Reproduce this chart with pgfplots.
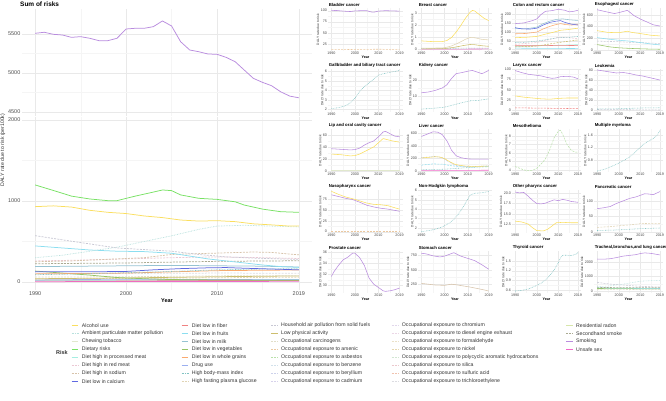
\documentclass[border=0pt]{standalone}
\usepackage{pgfplots}
\pgfplotsset{compat=1.18}
\usepackage{fontspec}
\setmainfont{Liberation Sans}
\definecolor{alcC}{RGB}{250,222,95}
\definecolor{ambC}{RGB}{185,225,222}
\definecolor{chwC}{RGB}{225,232,205}
\definecolor{dieC}{RGB}{120,225,100}
\definecolor{dpmC}{RGB}{165,238,225}
\definecolor{drmC}{RGB}{235,200,212}
\definecolor{dsoC}{RGB}{215,195,170}
\definecolor{dcaC}{RGB}{95,105,225}
\definecolor{dfiC}{RGB}{240,130,130}
\definecolor{dfrC}{RGB}{140,222,240}
\definecolor{dmiC}{RGB}{150,195,210}
\definecolor{dveC}{RGB}{150,195,100}
\definecolor{dwgC}{RGB}{250,170,110}
\definecolor{druC}{RGB}{155,175,240}
\definecolor{bmiC}{RGB}{130,195,195}
\definecolor{fpgC}{RGB}{225,212,180}
\definecolor{hapC}{RGB}{200,200,212}
\definecolor{lpaC}{RGB}{205,190,110}
\definecolor{occC}{RGB}{225,222,200}
\definecolor{oarC}{RGB}{235,200,160}
\definecolor{oasC}{RGB}{185,225,170}
\definecolor{obzC}{RGB}{210,225,235}
\definecolor{obeC}{RGB}{205,210,235}
\definecolor{ocdC}{RGB}{215,210,235}
\definecolor{ochC}{RGB}{225,215,235}
\definecolor{odeC}{RGB}{235,215,230}
\definecolor{ofoC}{RGB}{235,225,200}
\definecolor{oniC}{RGB}{230,215,175}
\definecolor{opaC}{RGB}{210,230,210}
\definecolor{osiC}{RGB}{235,200,205}
\definecolor{osuC}{RGB}{240,195,175}
\definecolor{otrC}{RGB}{220,220,225}
\definecolor{radC}{RGB}{215,230,170}
\definecolor{shsC}{RGB}{170,170,145}
\definecolor{smkC}{RGB}{185,140,222}
\definecolor{unsC}{RGB}{240,105,200}
\tikzset{ds/.style={dash pattern=on 2bp off 1.2bp}, dt/.style={dash pattern=on 0.7bp off 0.9bp}}
\pgfplotsset{
 base/.style={scale only axis, anchor=north west, xmin=1988.55, xmax=2020.45,
   axis line style={draw=none}, major tick length=0pt, minor tick length=0pt,
   grid=both, major grid style={draw=gray!17, line width=0.3bp}, minor grid style={draw=gray!8, line width=0.2bp},
   minor xtick={1995,2005,2015}, minor y tick num=1,
   xtick={1990,2000,2010,2019},
   tick label style={text=black!70},
   /pgf/number format/assume math mode=true, /pgf/number format/1000 sep={}},
 sp/.style={base, height=43bp, tick label style={font=\fontsize{3.7}{4}\selectfont, inner sep=0.8bp},
   every axis title/.style={font=\bfseries\fontsize{4.3}{5}\selectfont, at={(0,1)}, anchor=south west, inner sep=0.6bp, yshift=0.4bp},
   xlabel=Year, xlabel style={font=\bfseries\fontsize{3.7}{4}\selectfont, inner sep=0.6bp},
   ylabel={DALY rate due to risk}, ylabel style={font=\fontsize{3.3}{4}\selectfont, inner sep=0.6bp, text=black!80},
   every axis plot/.append style={line width=0.55bp}},
 mp/.style={base, width=290bp, tick label style={font=\fontsize{5.5}{6}\selectfont, inner sep=1.5bp},
   every axis plot/.append style={line width=0.75bp}},
 fx1/.style={yticklabel style={/pgf/number format/.cd, fixed, fixed zerofill, precision=1}}
}
\newcommand\LE[4]{\draw[color=#3, line width=1.3bp] (#1bp-10bp,-#2bp) -- (#1bp-3.5bp,-#2bp);
  \node[anchor=west, inner sep=0, text=black!80, font=\fontsize{5.2}{6}\selectfont] at (#1bp,-#2bp) {#4};}
\begin{document}
\begin{tikzpicture}
\useasboundingbox (0,0) rectangle (666bp,-401bp);
\node[anchor=west, inner sep=0, font=\bfseries\fontsize{6.5}{7}\selectfont] at (20bp,-4.5bp) {Sum of risks};
\node[rotate=90, inner sep=0, font=\fontsize{5.2}{6}\selectfont, text=black!80] at (2.8bp,-150bp) {DALY rate due to risk (per100k)};
% main top
\begin{axis}[mp, at={(22bp,-9bp)}, height=107bp, ymin=4450, ymax=5820, ytick={4500,5000,5500}, xticklabels={}]
\addplot[smkC] coordinates {(1990,5509)(1991,5522)(1992,5496)(1993,5487)(1994,5457)(1995,5466)(1996,5445)(1997,5415)(1998,5415)(1999,5445)(2000,5564)(2001,5573)(2002,5573)(2003,5594)(2004,5667)(2005,5603)(2006,5401)(2007,5295)(2008,5273)(2009,5244)(2010,5240)(2011,5201)(2012,5145)(2013,5038)(2014,4932)(2015,4881)(2016,4838)(2017,4760)(2018,4705)(2019,4683)};
\end{axis}
% main bottom
\begin{axis}[mp, at={(22bp,-117bp)}, height=173bp, ymin=-99, ymax=2037, ytick={0,1000,2000},
  xlabel=Year, xlabel style={font=\bfseries\fontsize{5.5}{6}\selectfont, inner sep=1bp}]
\addplot[unsC] coordinates {(1990,4)(2005,6)(2019,8)};
\addplot[dfiC] coordinates {(1990,15)(2005,17)(2019,18)};
\addplot[dpmC] coordinates {(1990,20)(2005,25)(2019,30)};
\addplot[druC] coordinates {(1990,25)(2000,35)(2010,30)(2019,28)};
\addplot[fpgC,ds] coordinates {(1990,35)(2005,48)(2019,60)};
\addplot[lpaC] coordinates {(1990,40)(2000,50)(2010,65)(2019,75)};
\addplot[occC,ds] coordinates {(1990,60)(2000,65)(2010,75)(2019,80)};
\addplot[otrC,ds] coordinates {(1990,100)(2000,105)(2010,110)(2019,108)};
\addplot[dveC] coordinates {(1990,135)(1993,110)(1996,85)(1999,55)(2002,40)(2005,30)(2010,25)(2019,20)};
\addplot[dwgC] coordinates {(1990,100)(1995,105)(2000,110)(2005,125)(2010,140)(2015,145)(2019,148)};
\addplot[bmiC,dt] coordinates {(1990,90)(1995,100)(2000,115)(2005,130)(2010,150)(2015,160)(2019,165)};
\addplot[dcaC] coordinates {(1990,125)(1995,125)(2000,130)(2003,150)(2006,165)(2009,175)(2011,178)(2013,170)(2016,160)(2019,150)};
\addplot[dmiC] coordinates {(1990,190)(1995,195)(2000,200)(2005,205)(2010,200)(2015,195)(2019,185)};
\addplot[shsC,ds] coordinates {(1990,225)(2000,235)(2005,245)(2010,255)(2019,262)};
\addplot[drmC,ds] coordinates {(1990,260)(1995,270)(2000,285)(2005,300)(2010,310)(2015,300)(2019,290)};
\addplot[dsoC,ds] coordinates {(1990,250)(1994,260)(1998,280)(2002,300)(2005,340)(2008,350)(2011,360)(2014,370)(2016,365)(2019,335)};
\addplot[dfrC] coordinates {(1990,445)(1993,420)(1996,395)(1999,380)(2002,375)(2005,355)(2007,320)(2009,285)(2011,260)(2013,235)(2015,210)(2017,190)(2019,180)};
\addplot[ambC,dt] coordinates {(1990,300)(1993,330)(1996,380)(1999,430)(2002,500)(2005,570)(2008,650)(2010,690)(2013,700)(2016,690)(2019,680)};
\addplot[hapC,ds] coordinates {(1990,572)(1993,520)(1996,470)(1999,420)(2002,400)(2005,380)(2008,340)(2011,310)(2014,295)(2017,285)(2019,280)};
\addplot[alcC] coordinates {(1990,930)(1992,940)(1994,925)(1996,885)(1998,860)(2000,845)(2002,815)(2004,795)(2006,765)(2008,752)(2010,757)(2012,745)(2014,718)(2016,705)(2018,690)(2019,691)};
\addplot[dieC] coordinates {(1990,1198)(1992,1130)(1994,1060)(1996,1025)(1998,1004)(1999,1004)(2001,1060)(2003,1110)(2004,1136)(2005,1128)(2006,1075)(2008,1033)(2010,1020)(2012,990)(2013,950)(2015,900)(2017,868)(2019,860)};
\end{axis}
% ===== Row 1 =====
\begin{axis}[sp, at={(328bp,-8bp)}, width=75bp, title={Bladder cancer}, ymin=9, ymax=106, ytick={25,50,75,100}]
\addplot[oarC,ds] coordinates {(1990,12)(2000,12.5)(2010,13)(2019,12.5)};
\addplot[smkC] coordinates {(1990,100)(1992,100.5)(1995,99)(1998,98)(2000,99.5)(2003,100)(2005,100)(2007,97)(2008,96.5)(2010,99)(2013,100)(2016,99.5)(2019,99)};
\end{axis}
\begin{axis}[sp, at={(418bp,-8bp)}, width=74bp, title={Breast cancer}, ymin=-0.12, ymax=3.45, ytick={0,1,2,3}]
\addplot[unsC] coordinates {(1990,0.03)(2019,0.05)};
\addplot[bmiC,dt] coordinates {(1990,0.1)(2005,0.11)(2019,0.12)};
\addplot[lpaC] coordinates {(1990,0.06)(2000,0.08)(2004,0.18)(2008,0.33)(2011,0.42)(2013,0.4)(2016,0.32)(2019,0.27)};
\addplot[fpgC] coordinates {(1990,0.12)(1995,0.12)(2000,0.15)(2003,0.3)(2006,0.55)(2009,0.85)(2011,1.0)(2013,0.98)(2016,0.85)(2019,0.8)};
\addplot[alcC] coordinates {(1990,0.72)(1993,0.68)(1996,0.65)(1999,0.66)(2001,0.75)(2003,1.0)(2005,1.45)(2007,2.0)(2009,2.6)(2011,3.1)(2012,3.25)(2013,3.2)(2015,2.9)(2017,2.6)(2019,2.4)};
\end{axis}
\begin{axis}[sp, at={(512bp,-8bp)}, width=69bp, title={Colon and rectum cancer}, ymin=-8, ymax=237, ytick={0,50,100,150,200}]
\addplot[dfrC] coordinates {(1990,8)(2005,7)(2019,6)};
\addplot[dpmC] coordinates {(1990,18)(2005,23)(2019,28)};
\addplot[dfiC] coordinates {(1990,22)(2000,22)(2010,24)(2019,23)};
\addplot[lpaC,ds] coordinates {(1990,15)(2000,20)(2010,40)(2019,55)};
\addplot[drmC,ds] coordinates {(1990,30)(2000,40)(2005,55)(2010,70)(2015,68)(2019,62)};
\addplot[bmiC,dt] coordinates {(1990,40)(1995,42)(2000,48)(2005,58)(2010,68)(2015,70)(2019,75)};
\addplot[alcC] coordinates {(1990,68)(1995,70)(2000,75)(2004,88)(2008,100)(2011,110)(2015,115)(2019,122)};
\addplot[dwgC] coordinates {(1990,90)(1995,92)(2000,100)(2003,118)(2006,132)(2009,143)(2011,148)(2013,143)(2016,140)(2019,142)};
\addplot[dmiC] coordinates {(1990,120)(1995,118)(2000,128)(2003,148)(2006,162)(2009,172)(2012,175)(2015,170)(2019,166)};
\addplot[dcaC] coordinates {(1990,125)(1993,118)(1997,117)(2000,122)(2003,140)(2006,155)(2009,162)(2011,165)(2013,155)(2016,145)(2019,140)};
\addplot[smkC] coordinates {(1990,148)(1994,152)(1998,165)(2000,175)(2002,200)(2004,218)(2007,222)(2010,230)(2013,224)(2015,215)(2017,218)(2019,224)};
\end{axis}
\begin{axis}[sp, at={(594bp,-8bp)}, width=69bp, title={Esophageal cancer}, ymin=-20, ymax=720, ytick={0,200,400,600}]
\addplot[dveC] coordinates {(1990,90)(1993,70)(1996,50)(2000,35)(2005,25)(2010,18)(2015,12)(2019,10)};
\addplot[hapC,ds] coordinates {(1990,150)(2000,140)(2005,130)(2010,125)(2015,115)(2019,110)};
\addplot[dfrC] coordinates {(1990,210)(1995,185)(2000,165)(2005,150)(2010,125)(2015,100)(2019,85)};
\addplot[alcC] coordinates {(1990,330)(1995,300)(2000,295)(2004,320)(2006,300)(2010,280)(2015,250)(2019,240)};
\addplot[smkC] coordinates {(1990,690)(1993,665)(1996,640)(1998,625)(2000,640)(2002,660)(2004,680)(2005,650)(2007,590)(2010,530)(2013,480)(2016,430)(2019,410)};
\end{axis}
% ===== Row 2 =====
\begin{axis}[sp, at={(328bp,-68.5bp)}, width=75bp, title={Gallbladder and biliary tract cancer}, ymin=1.8, ymax=6.3, ytick={2,3,4,5,6}]
\addplot[bmiC,dt] coordinates {(1990,2.1)(1993,2.2)(1996,2.4)(1998,2.7)(2000,3.2)(2002,3.9)(2004,4.4)(2006,4.8)(2008,5.2)(2010,5.6)(2012,5.75)(2014,5.85)(2016,5.95)(2019,6.1)};
\end{axis}
\begin{axis}[sp, at={(418bp,-68.5bp)}, width=74bp, title={Kidney cancer}, ymin=0.3, ymax=27.2, ytick={10,20}]
\addplot[bmiC,dt] coordinates {(1990,1.8)(1995,2.3)(2000,3)(2004,4.5)(2008,6)(2011,7)(2015,7.3)(2019,8.2)};
\addplot[smkC] coordinates {(1990,12)(1993,12.5)(1996,13.5)(1999,15)(2001,17)(2003,21)(2005,24)(2007,24.5)(2010,25.5)(2012,26)(2014,25)(2016,24)(2017,24.5)(2019,26)};
\end{axis}
\begin{axis}[sp, at={(512bp,-68.5bp)}, width=69bp, title={Larynx cancer}, ymin=-3, ymax=102, ytick={0,25,50,75,100}]
\addplot[dfiC,ds] coordinates {(1990,6)(2005,5)(2019,4)};
\addplot[alcC] coordinates {(1990,35)(1994,32)(1998,30)(2002,28)(2006,27)(2010,29)(2014,30)(2019,30)};
\addplot[smkC] coordinates {(1990,97)(1993,92)(1996,88)(1999,86)(2002,84)(2005,80)(2007,78)(2009,79)(2011,82)(2014,83)(2017,81)(2019,77)};
\end{axis}
\begin{axis}[sp, at={(594bp,-68.5bp)}, width=69bp, title={Leukemia}, ymin=-2, ymax=84, ytick={0,20,40,60,80}]
\addplot[hapC,ds] coordinates {(1990,2)(2005,1.5)(2019,1)};
\addplot[bmiC,dt] coordinates {(1990,3)(2000,3.5)(2010,5)(2019,5.5)};
\addplot[smkC] coordinates {(1990,81)(1993,79)(1996,77)(1999,75)(2002,76)(2005,74)(2008,71)(2011,69)(2014,66)(2017,63)(2019,61)};
\end{axis}
% ===== Row 3 =====
\begin{axis}[sp, at={(328bp,-129bp)}, width=75bp, title={Lip and oral cavity cancer}, ymin=-2, ymax=70, ytick={0,20,40,60}]
\addplot[chwC] coordinates {(1990,0.5)(2019,0.5)};
\addplot[alcC] coordinates {(1990,28)(1994,27)(1998,25)(2000,25.5)(2002,28)(2005,34)(2008,40)(2010,47)(2012,54)(2013,53)(2016,50)(2019,48)};
\addplot[smkC] coordinates {(1990,37)(1994,36)(1998,35)(2000,35.5)(2002,38)(2004,43)(2006,47)(2008,50)(2010,57)(2012,65)(2013,66)(2015,62)(2017,58)(2019,57)};
\end{axis}
\begin{axis}[sp, at={(418bp,-129bp)}, width=74bp, title={Liver cancer}, ymin=-20, ymax=670, ytick={0,200,400,600}]
\addplot[unsC] coordinates {(1990,5)(2019,8)};
\addplot[bmiC,dt] coordinates {(1990,15)(2000,25)(2010,50)(2019,70)};
\addplot[dfrC,ds] coordinates {(1990,90)(1995,110)(1999,105)(2003,80)(2007,65)(2012,60)(2019,65)};
\addplot[druC,dt] coordinates {(1990,210)(1996,230)(1999,210)(2002,140)(2005,85)(2010,65)(2015,70)(2019,78)};
\addplot[alcC] coordinates {(1990,205)(1993,215)(1996,225)(1998,220)(2000,195)(2002,150)(2004,110)(2006,90)(2009,75)(2012,70)(2016,72)(2019,75)};
\addplot[smkC] coordinates {(1990,550)(1992,580)(1995,625)(1997,620)(1999,580)(2001,480)(2003,330)(2005,240)(2007,210)(2010,190)(2013,185)(2016,185)(2019,185)};
\end{axis}
\begin{axis}[sp, at={(512bp,-129bp)}, width=69bp, title={Mesothelioma}, ymin=3.75, ymax=8.85, ytick={4,5,6,7,8}]
\addplot[oasC,ds] coordinates {(1990,4.4)(1992,4.2)(1994,4.0)(1996,3.9)(1998,3.95)(2000,4.2)(2002,4.7)(2004,5.3)(2006,6.4)(2008,7.8)(2010,8.6)(2011,8.7)(2012,8.2)(2014,7.0)(2016,6.3)(2018,6.1)(2019,6.1)};
\end{axis}
\begin{axis}[sp, at={(594bp,-129bp)}, width=69bp, title={Multiple myeloma}, ymin=0.42, ymax=1.8, ytick={0.8,1.2,1.6}, fx1]
\addplot[bmiC,dt] coordinates {(1990,0.45)(1993,0.5)(1996,0.58)(1999,0.67)(2002,0.78)(2005,0.9)(2008,1.08)(2010,1.22)(2012,1.34)(2014,1.42)(2016,1.5)(2018,1.62)(2019,1.76)};
\end{axis}
% ===== Row 4 =====
\begin{axis}[sp, at={(328bp,-190bp)}, width=75bp, title={Nasopharynx cancer}, ymin=-3, ymax=96, ytick={0,25,50,75}]
\addplot[oarC,ds] coordinates {(1990,1)(2019,1)};
\addplot[smkC] coordinates {(1990,85)(1993,81)(1996,77)(1999,74)(2002,68)(2005,61)(2008,57)(2011,54)(2014,52)(2017,49)(2019,47)};
\addplot[alcC] coordinates {(1990,93)(1993,86)(1996,80)(1999,76)(2002,71)(2005,66)(2008,63)(2011,62)(2014,60)(2017,55)(2019,52)};
\end{axis}
\begin{axis}[sp, at={(418bp,-190bp)}, width=74bp, title={Non-Hodgkin lymphoma}, ymin=1.45, ymax=6.05, ytick={2,3,4,5,6}]
\addplot[bmiC,dt] coordinates {(1990,1.6)(1993,1.7)(1996,1.85)(1999,2.1)(2002,2.5)(2004,2.9)(2006,3.5)(2008,4.2)(2010,5.1)(2011,5.5)(2013,5.7)(2016,5.75)(2019,5.9)};
\end{axis}
\begin{axis}[sp, at={(512bp,-190bp)}, width=69bp, title={Other pharynx cancer}, ymin=10.3, ymax=20.8, ytick={12.5,15,17.5,20}, fx1]
\addplot[alcC] coordinates {(1990,13.2)(1993,13.0)(1996,12.5)(1998,11.6)(2000,10.9)(2003,10.8)(2005,11.2)(2007,12.0)(2009,12.8)(2012,12.9)(2016,12.8)(2019,12.8)};
\addplot[smkC] coordinates {(1990,20.3)(1992,20.1)(1994,20.2)(1996,19.3)(1998,18.3)(2000,17.5)(2002,17.4)(2004,17.6)(2006,18.0)(2008,18.4)(2010,18.2)(2012,18.5)(2014,18.3)(2016,18.0)(2019,17.8)};
\end{axis}
\begin{axis}[sp, at={(594bp,-190bp)}, width=69bp, title={Pancreatic cancer}, ymin=-3, ymax=135, ytick={0,50,100}]
\addplot[bmiC,dt] coordinates {(1990,5)(2000,7)(2010,11)(2019,13)};
\addplot[fpgC,ds] coordinates {(1990,15)(1995,17)(2000,20)(2005,23)(2010,27)(2015,28)(2019,28)};
\addplot[smkC] coordinates {(1990,75)(1993,78)(1996,82)(1999,92)(2002,100)(2005,108)(2008,113)(2010,118)(2012,123)(2014,122)(2016,120)(2019,130)};
\end{axis}
% ===== Row 5 =====
\begin{axis}[sp, at={(328bp,-251bp)}, width=75bp, height=42bp, title={Prostate cancer}, ymin=28.6, ymax=36.2, ytick={30,32,34,36}]
\addplot[smkC] coordinates {(1990,31.6)(1991,32.4)(1993,33.6)(1995,34.6)(1997,35.1)(1999,35.8)(2000,35.8)(2002,35.0)(2004,33.6)(2006,31.3)(2008,30.2)(2010,29.6)(2012,29.0)(2013,28.9)(2015,29.0)(2017,29.2)(2019,29.5)};
\end{axis}
\begin{axis}[sp, at={(418bp,-251bp)}, width=74bp, height=42bp, title={Stomach cancer}, ymin=90, ymax=830, ytick={250,500,750}]
\addplot[dsoC] coordinates {(1990,260)(1993,245)(1996,230)(2000,225)(2003,245)(2005,235)(2008,215)(2011,195)(2014,170)(2017,145)(2019,125)};
\addplot[smkC] coordinates {(1990,790)(1992,780)(1995,745)(1998,725)(2000,740)(2002,770)(2004,800)(2005,780)(2007,740)(2010,700)(2013,660)(2016,590)(2019,510)};
\end{axis}
\begin{axis}[sp, at={(512bp,-251bp)}, width=69bp, height=42bp, title={Thyroid cancer}, ymin=0.52, ymax=1.8, ytick={0.6,0.9,1.2,1.5}, fx1]
\addplot[bmiC,dt] coordinates {(1990,0.58)(1993,0.6)(1996,0.64)(1999,0.72)(2002,0.82)(2004,0.92)(2006,1.05)(2008,1.22)(2010,1.45)(2011,1.6)(2012,1.67)(2014,1.67)(2016,1.66)(2018,1.7)(2019,1.75)};
\end{axis}
\begin{axis}[sp, at={(594bp,-251bp)}, width=69bp, height=42bp, title={Tracheal,bronchus,and lung cancer}, ymin=-130, ymax=2750, ytick={0,1000,2000}]
\addplot[occC,ds] coordinates {(1990,100)(2005,110)(2019,120)};
\addplot[radC] coordinates {(1990,150)(2005,175)(2019,200)};
\addplot[dveC] coordinates {(1990,180)(2005,165)(2019,150)};
\addplot[dfrC] coordinates {(1990,220)(2005,200)(2019,180)};
\addplot[shsC,ds] coordinates {(1990,250)(2005,240)(2019,230)};
\addplot[hapC,ds] coordinates {(1990,600)(1995,500)(2000,430)(2005,380)(2010,330)(2015,300)(2019,280)};
\addplot[ambC,dt] coordinates {(1990,300)(1995,350)(2000,430)(2005,550)(2010,680)(2015,720)(2019,730)};
\addplot[smkC] coordinates {(1990,2200)(1993,2190)(1996,2220)(1999,2300)(2002,2400)(2005,2450)(2008,2500)(2010,2580)(2012,2620)(2014,2600)(2016,2560)(2019,2480)};
\end{axis}
% ===== Legend =====
\node[anchor=west, inner sep=0, font=\bfseries\fontsize{5.5}{6}\selectfont, text=black!80] at (56bp,-353bp) {Risk};
\LE{81.7}{325.5}{alcC}{Alcohol use}
\LE{81.7}{333.5}{ambC,dt}{Ambient particulate matter pollution}
\LE{81.7}{341.5}{chwC}{Chewing tobacco}
\LE{81.7}{349.5}{dieC}{Dietary risks}
\LE{81.7}{357.5}{dpmC}{Diet high in processed meat}
\LE{81.7}{365.5}{drmC,ds}{Diet high in red meat}
\LE{81.7}{373.5}{dsoC,ds}{Diet high in sodium}
\LE{81.7}{381.5}{dcaC}{Diet low in calcium}
\LE{191.7}{325.5}{dfiC}{Diet low in fiber}
\LE{191.7}{333.5}{dfrC}{Diet low in fruits}
\LE{191.7}{341.5}{dmiC}{Diet low in milk}
\LE{191.7}{349.5}{dveC}{Diet low in vegetables}
\LE{191.7}{357.5}{dwgC}{Diet low in whole grains}
\LE{191.7}{365.5}{druC}{Drug use}
\LE{191.7}{373.5}{bmiC,dt}{High body-mass index}
\LE{191.7}{381.5}{fpgC,ds}{High fasting plasma glucose}
\LE{281}{325.5}{hapC,ds}{Household air pollution from solid fuels}
\LE{281}{333.5}{lpaC}{Low physical activity}
\LE{281}{341.5}{occC,ds}{Occupational carcinogens}
\LE{281}{349.5}{oarC,ds}{Occupational exposure to arsenic}
\LE{281}{357.5}{oasC,ds}{Occupational exposure to asbestos}
\LE{281}{365.5}{obzC,ds}{Occupational exposure to benzene}
\LE{281}{373.5}{obeC,ds}{Occupational exposure to beryllium}
\LE{281}{381.5}{ocdC,ds}{Occupational exposure to cadmium}
\LE{401.7}{325.5}{ochC,ds}{Occupational exposure to chromium}
\LE{401.7}{333.5}{odeC,ds}{Occupational exposure to diesel engine exhaust}
\LE{401.7}{341.5}{ofoC,ds}{Occupational exposure to formaldehyde}
\LE{401.7}{349.5}{oniC,ds}{Occupational exposure to nickel}
\LE{401.7}{357.5}{opaC,ds}{Occupational exposure to polycyclic aromatic hydrocarbons}
\LE{401.7}{365.5}{osiC,ds}{Occupational exposure to silica}
\LE{401.7}{373.5}{osuC,ds}{Occupational exposure to sulfuric acid}
\LE{401.7}{381.5}{otrC,ds}{Occupational exposure to trichloroethylene}
\LE{576}{325.5}{radC}{Residential radon}
\LE{576}{333.5}{shsC,ds}{Secondhand smoke}
\LE{576}{341.5}{smkC}{Smoking}
\LE{576}{349.5}{unsC}{Unsafe sex}
\end{tikzpicture}
\end{document}
